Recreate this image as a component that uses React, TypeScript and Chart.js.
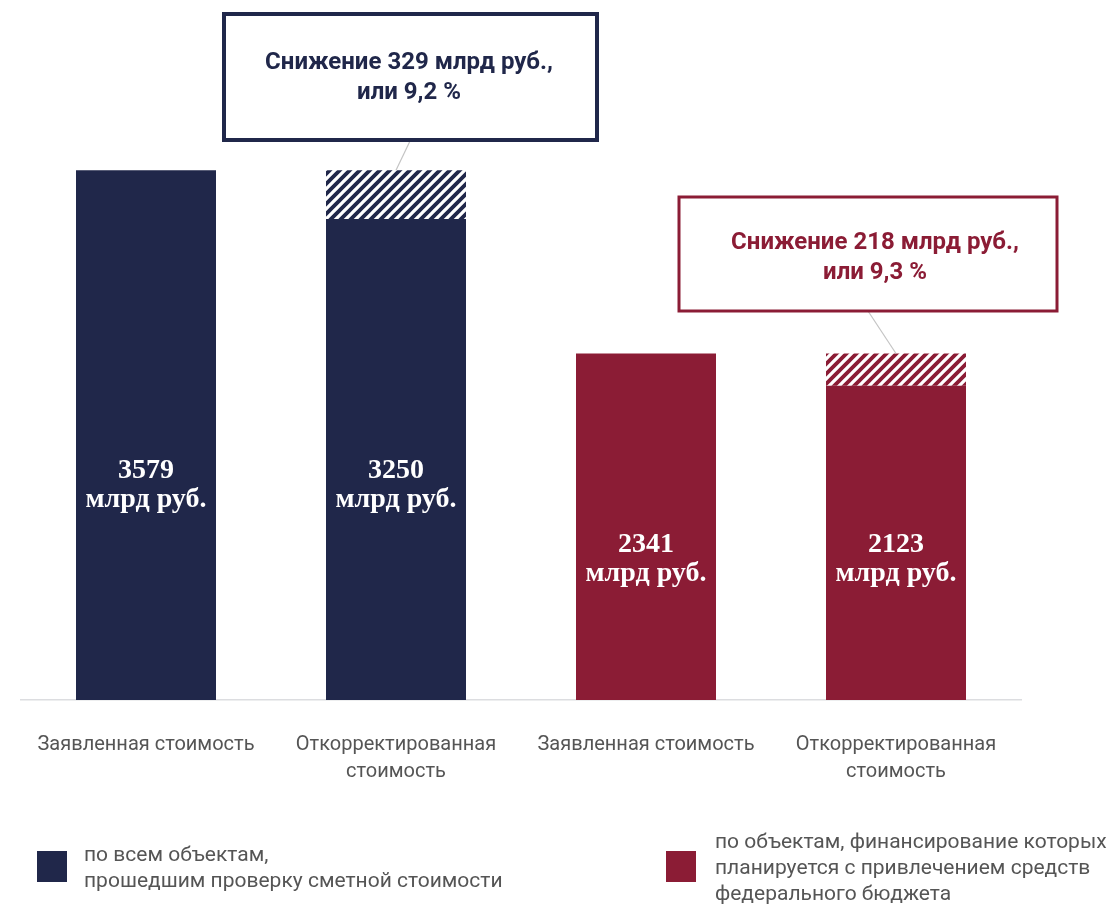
import React, { useEffect, useRef } from "react";
import { Chart, registerables } from "chart.js";

Chart.register(...registerables);

const categories: (string | string[])[] = [
  "Заявленная стоимость",
  ["Откорректированная", "стоимость"],
  "Заявленная стоимость",
  ["Откорректированная", "стоимость"],
];
const baseValues = [3579, 3250, 2341, 2123];
const reductionValues = [0, 329, 0, 218];
const valueLabels = ["3579", "3250", "2341", "2123"];
const unitLabel = "млрд руб.";
const groupColors = ["#20274a", "#20274a", "#8b1c35", "#8b1c35"];
const calloutLines = [
  ["Снижение 329 млрд руб.,", "или 9,2 %"],
  ["Снижение 218 млрд руб.,", "или 9,3 %"],
];
const calloutBars = [1, 3];
const legendItems = [
  { color: "#20274a", lines: ["по всем объектам,", "прошедшим проверку сметной стоимости"] },
  {
    color: "#8b1c35",
    lines: ["по объектам, финансирование которых", "планируется с привлечением средств", "федерального бюджета"],
  },
];

function makeHatch(color: string): CanvasPattern | string {
  const c = document.createElement("canvas");
  const s = 10;
  c.width = s;
  c.height = s;
  const g = c.getContext("2d");
  if (!g) return color;
  g.fillStyle = "#ffffff";
  g.fillRect(0, 0, s, s);
  g.strokeStyle = color;
  g.lineWidth = 3.8;
  g.beginPath();
  g.moveTo(-2, s + 2);
  g.lineTo(s + 2, -2);
  g.moveTo(-2 - s, s + 2);
  g.lineTo(2, -2);
  g.moveTo(s - 2, s + 2);
  g.lineTo(s + 2 + s, -2);
  g.stroke();
  const p = g.createPattern(c, "repeat");
  return p || color;
}

export default function App() {
  const ref = useRef<HTMLCanvasElement | null>(null);

  useEffect(() => {
    document.body.style.margin = "0";
    const canvas = ref.current;
    if (!canvas) return;

    const overlay = {
      id: "overlay",
      afterDatasetsDraw(chart: any) {
        const ctx = chart.ctx as CanvasRenderingContext2D;
        const meta0 = chart.getDatasetMeta(0);
        const meta1 = chart.getDatasetMeta(1);
        const yScale = chart.scales.y;
        // value labels inside bars
        ctx.save();
        ctx.fillStyle = "#ffffff";
        ctx.textAlign = "center";
        ctx.textBaseline = "middle";
        ctx.font = "bold 28px 'Liberation Serif', 'Times New Roman', serif";
        baseValues.forEach((v, i) => {
          const total = v + reductionValues[i];
          const bar = meta0.data[i];
          const cy = yScale.getPixelForValue(total * 0.4);
          ctx.fillText(valueLabels[i], bar.x, cy - 17);
          ctx.fillText(unitLabel, bar.x, cy + 12);
        });
        ctx.restore();

        // callouts
        const boxes = [
          { x: 224, y: 14, w: 373, h: 126, color: "#20274a", lw: 4, tx: 409, ty: 63 },
          { x: 679, y: 197, w: 378, h: 114, color: "#8b1c35", lw: 3, tx: 875, ty: 243 },
        ];
        boxes.forEach((b, k) => {
          const bi = calloutBars[k];
          const top = meta1.data[bi];
          ctx.save();
          ctx.strokeStyle = "#c4c4c4";
          ctx.lineWidth = 1.2;
          ctx.beginPath();
          ctx.moveTo(b.x + b.w / 2, b.y + b.h);
          ctx.lineTo(top.x, top.y);
          ctx.stroke();
          ctx.fillStyle = "#ffffff";
          ctx.fillRect(b.x, b.y, b.w, b.h);
          ctx.strokeStyle = b.color;
          ctx.lineWidth = b.lw;
          ctx.strokeRect(b.x, b.y, b.w, b.h);
          ctx.fillStyle = b.color;
          ctx.font = "bold 24px Roboto, 'Noto Sans', sans-serif";
          ctx.textAlign = "center";
          ctx.textBaseline = "middle";
          ctx.fillText(calloutLines[k][0], b.tx, b.ty);
          ctx.fillText(calloutLines[k][1], b.tx, b.ty + 30);
          ctx.restore();
        });

        // legend
        ctx.save();
        ctx.font = "21px Roboto, 'Noto Sans', sans-serif";
        ctx.textBaseline = "middle";
        ctx.textAlign = "left";
        const legPos = [
          { sx: 37, sy: 851, tx: 84, ty: 856 },
          { sx: 666, sy: 851, tx: 715, ty: 843 },
        ];
        legendItems.forEach((it, k) => {
          const p = legPos[k];
          ctx.fillStyle = it.color;
          ctx.fillRect(p.sx, p.sy, 30, 31);
          ctx.fillStyle = "#555555";
          it.lines.forEach((ln, j) => ctx.fillText(ln, p.tx, p.ty + j * 26));
        });
        ctx.restore();
      },
    };

    const chart = new Chart(canvas, {
      type: "bar",
      data: {
        labels: categories as any,
        datasets: [
          {
            data: baseValues,
            backgroundColor: groupColors,
            borderWidth: 0,
            barPercentage: 0.56,
            categoryPercentage: 1,
            stack: "s",
          },
          {
            data: reductionValues,
            backgroundColor: groupColors.map((c) => makeHatch(c)) as any,
            borderWidth: 0,
            barPercentage: 0.56,
            categoryPercentage: 1,
            stack: "s",
          },
        ],
      },
      options: {
        responsive: false,
        animation: false,
        devicePixelRatio: 1,
        layout: { padding: { left: 21, right: 97, top: 108, bottom: 92 } },
        plugins: { legend: { display: false }, tooltip: { enabled: false } },
        scales: {
          x: {
            stacked: true,
            grid: { display: false, drawTicks: false },
            border: { display: true, color: "#dcdde0", width: 1.5 },
            ticks: {
              color: "#555555",
              padding: 31,
              maxRotation: 0,
              autoSkip: false,
              font: { family: "Roboto, 'Noto Sans', sans-serif", size: 20, lineHeight: 1.35 },
            },
          },
          y: {
            stacked: true,
            display: false,
            min: 0,
            max: 4000,
          },
        },
      },
      plugins: [overlay],
    });
    return () => chart.destroy();
  }, []);

  return (
    <div style={{ position: "absolute", left: 0, top: 0, width: 1118, height: 908, background: "#fff" }}>
      <canvas ref={ref} width={1118} height={908} style={{ display: "block" }} />
    </div>
  );
}
